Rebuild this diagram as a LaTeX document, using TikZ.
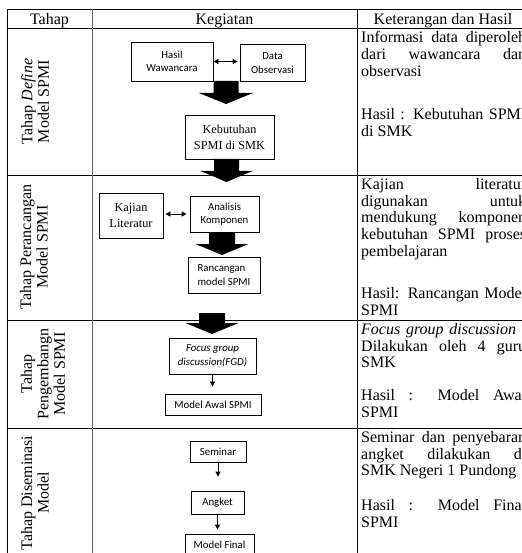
\documentclass[tikz,border=0pt]{standalone}
\usepackage{fontspec}
\setmainfont{Liberation Serif}
\newfontfamily\calib{Carlito}
\usetikzlibrary{arrows.meta}
\begin{document}
\begin{tikzpicture}[x=1pt,y=-1pt,
  grid/.style={line width=0.9pt},
  box/.style={draw, line width=0.8pt, inner sep=0pt, align=center, font=\calib\fontsize{10.8}{13.5}\selectfont},
  sbox/.style={box, font=\fontsize{12.3}{16}\selectfont},
  tarr/.style={-{Triangle[length=5pt,width=5pt]}, line width=0.8pt},
  darr/.style={{Triangle[length=5pt,width=5pt]}-{Triangle[length=5pt,width=5pt]}, line width=0.8pt},
  hd/.style={font=\fontsize{16}{16.7}\selectfont, anchor=base, inner sep=0pt},
  rt/.style={rotate=90, align=center, font=\fontsize{16}{16.5}\selectfont, inner sep=0pt},
  txt/.style={anchor=base west, inner sep=0pt, font=\fontsize{16}{16.7}\selectfont},
  fat/.style={fill=black},
]
\useasboundingbox (0,0) rectangle (521,553);
\fill[white] (0,0) rectangle (521,553);
% table grid
\draw[grid] (7,9) -- (530,9);
\draw[grid] (7,28.5) -- (530,28.5);
\draw[grid] (7,175) -- (530,175);
\draw[grid] (7,320) -- (530,320);
\draw[grid] (7,428) -- (530,428);
\draw[grid] (7,9) -- (7,560);
\draw[grid, black!60] (92.5,9) -- (92.5,560);
\draw[grid] (357,9) -- (357,560);
% header
\node[hd] (h1) at (49.5,24.5) {Tahap};
\node[hd] (h2) at (224.5,24.5) {Kegiatan};
\node[hd] (h3) at (443,24.5) {Keterangan dan Hasil};
% left column
\node[rt] (l1) at (35,101.5) {Tahap \textit{Define}\\Model SPMI};
\node[rt] (l2) at (34,247) {Tahap Perancangan\\Model SPMI};
\node[rt] (l3) at (43,374) {Tahap\\Pengembangn\\Model SPMI};
\node[rt] (l4) at (35,493) {Tahap Diseminasi\\Model};
% middle column
\node[box, minimum width=82pt, minimum height=39pt] (hw) at (172,61.5) {Hasil\\Wawancara};
\node[box, minimum width=65pt, minimum height=37pt] (do) at (272.5,63) {Data\\Observasi};
\draw[darr, shorten >=2pt] (hw.east) -- (hw.east -| do.west);
\fill[fat] (213.5,81) -- (238.5,81) -- (238.5,93) -- (253,93) -- (226,104) -- (199,93) -- (213.5,93) -- cycle;
\node[sbox, minimum width=89pt, minimum height=44pt] (keb) at (229.5,137) {Kebutuhan\\SPMI di SMK};
\fill[fat] (214,159) -- (239,159) -- (239,171) -- (252.5,171) -- (226.5,182) -- (200.5,171) -- (214,171) -- cycle;
\node[sbox, minimum width=64pt, minimum height=45pt] (kl) at (131,215.5) {Kajian\\Literatur};
\node[box, minimum width=69pt, minimum height=36pt] (ak) at (224.5,214) {Analisis\\Komponen};
\draw[darr, shorten >=3pt, shorten <=2pt] (ak.west -| kl.east) -- (ak.west);
\fill[fat] (209,232) -- (235,232) -- (235,244) -- (248.5,244) -- (222,255) -- (195.5,244) -- (209,244) -- cycle;
\node[box, minimum width=72pt, minimum height=36pt, align=left] (rm) at (224,275) {Rancangan\\model SPMI};
\fill[fat] (199,313) -- (225,313) -- (225,323) -- (238.5,323) -- (212,334) -- (185.5,323) -- (199,323) -- cycle;
\node[box, minimum width=87pt, minimum height=36pt, font=\calib\itshape\fontsize{10.8}{13.5}\selectfont] (fgd) at (212.5,356) {Focus group\\discussion(FGD)};
\node[box, minimum width=96pt, minimum height=21pt] (mas) at (213,404.5) {Model Awal SPMI};
\draw[tarr, shorten >=7pt] (fgd.south) -- (fgd.south |- mas.north);
\node[box, minimum width=56pt, minimum height=21pt] (sem) at (218,451.5) {Seminar};
\node[box, minimum width=53pt, minimum height=23pt] (ang) at (217.5,502.5) {Angket};
\node[box, minimum width=69pt, minimum height=22pt] (mf) at (219.5,545) {Model Final};
\draw[tarr, shorten >=14pt] (sem.south) -- (sem.south |- ang.north);
\draw[tarr, shorten >=4pt] (ang.south) -- (ang.south |- mf.north);
% right column
\node[txt] (r1a) at (361,43) {\makebox[165pt][s]{Informasi data diperoleh}};
\node[txt] (r1b) at (361,59.7) {\makebox[165pt][s]{dari wawancara dan}};
\node[txt] (r1c) at (361,76.4) {observasi};
\node[txt] (r1d) at (361,119.5) {\makebox[165pt][s]{Hasil : Kebutuhan SPMI}};
\node[txt] (r1e) at (361,136.2) {di SMK};
\node[txt] (r2a) at (361,189.5) {\makebox[165pt][s]{Kajian literatur}};
\node[txt] (r2b) at (361,206.2) {\makebox[165pt][s]{digunakan untuk}};
\node[txt] (r2c) at (361,222.9) {\makebox[165pt][s]{mendukung komponen}};
\node[txt] (r2d) at (361,239.6) {\makebox[165pt][s]{kebutuhan SPMI proses}};
\node[txt] (r2e) at (361,256.3) {pembelajaran};
\node[txt] (r2f) at (361,298.5) {\makebox[165pt][s]{Hasil: Rancangan Model}};
\node[txt] (r2g) at (361,315.2) {SPMI};
\node[txt] (r3a) at (361,334.5) {\makebox[165pt][s]{\textit{Focus group discussion} :}};
\node[txt] (r3b) at (361,351.2) {\makebox[165pt][s]{Dilakukan oleh 4 guru}};
\node[txt] (r3c) at (361,367.9) {SMK};
\node[txt] (r3d) at (361,400.5) {\makebox[165pt][s]{Hasil : Model Awal}};
\node[txt] (r3e) at (361,417.2) {SPMI};
\node[txt] (r4a) at (361,442.5) {\makebox[165pt][s]{Seminar dan penyebaran}};
\node[txt] (r4b) at (361,459.2) {\makebox[165pt][s]{angket dilakukan di}};
\node[txt] (r4c) at (361,475.9) {SMK Negeri 1 Pundong};
\node[txt] (r4d) at (361,510.5) {\makebox[165pt][s]{Hasil : Model Final}};
\node[txt] (r4e) at (361,527.2) {SPMI};
\end{tikzpicture}
\end{document}
